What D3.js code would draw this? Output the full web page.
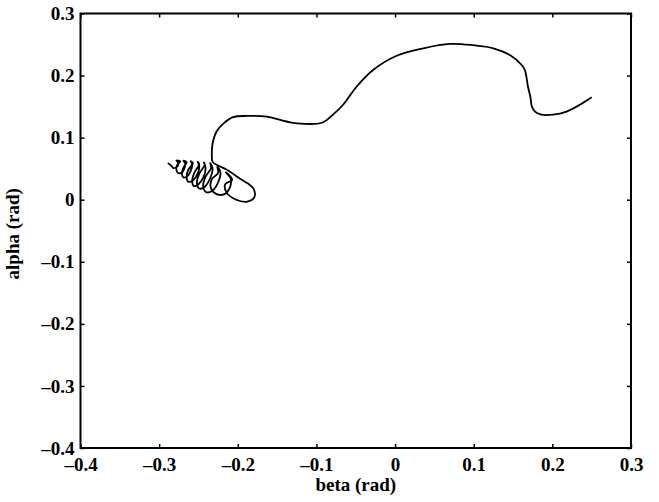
<!DOCTYPE html>
<html>
<head>
<meta charset="utf-8">
<script src="https://cdn.jsdelivr.net/npm/d3@7"></script>
<style>
body { margin: 0; background: #fff; }
svg text { font-family: "Liberation Serif", "Times New Roman", serif; font-weight: bold; fill: #000; }
</style>
</head>
<body>
<svg width="659" height="502"></svg>
<script>
// tick values for both axes
var xTicks = [-0.4, -0.3, -0.2, -0.1, 0, 0.1, 0.2, 0.3];
var yTicks = [-0.4, -0.3, -0.2, -0.1, 0, 0.1, 0.2, 0.3];

// trajectory (beta = x, alpha = y), from the right end to the loop tip
var beta = [
    0.250, 0.235, 0.218, 0.201, 0.186, 0.178, 0.174, 0.172, 0.169, 0.167,
    0.165, 0.161, 0.146, 0.125, 0.099, 0.070, 0.036, 0.002, -0.028, -0.049,
    -0.066, -0.079, -0.093, -0.125, -0.138, -0.163, -0.189, -0.206, -0.218, -0.227,
    -0.232, -0.233,
    -0.232, -0.225, -0.215, -0.204, -0.195, -0.187,
    -0.180, -0.179, -0.188, -0.202, -0.214, -0.216, -0.207,
    -0.215, -0.209, -0.210, -0.217, -0.227, -0.234, -0.233, -0.225,
    -0.226, -0.222, -0.225, -0.232, -0.240, -0.244, -0.241, -0.234,
    -0.235, -0.232, -0.235, -0.242, -0.249, -0.252, -0.249, -0.242,
    -0.243, -0.241, -0.243, -0.250, -0.256, -0.258, -0.255, -0.249,
    -0.251, -0.249, -0.251, -0.257, -0.263, -0.265, -0.263, -0.257,
    -0.260, -0.258, -0.260, -0.264, -0.269, -0.271, -0.269, -0.265,
    -0.269, -0.267, -0.268, -0.271, -0.276, -0.278, -0.277, -0.273,
    -0.278, -0.276, -0.276, -0.279, -0.282, -0.284, -0.289
];
var alpha = [
    0.165, 0.153, 0.142, 0.137, 0.137, 0.142, 0.150, 0.166, 0.182, 0.198,
    0.209, 0.217, 0.233, 0.244, 0.249, 0.251, 0.244, 0.232, 0.209, 0.182,
    0.153, 0.137, 0.124, 0.123, 0.126, 0.134, 0.135, 0.133, 0.123, 0.110,
    0.091, 0.072,
    0.061, 0.055, 0.049, 0.040, 0.032, 0.026,
    0.018, 0.004, -0.003, 0.000, 0.011, 0.025, 0.032,
    0.044, 0.034, 0.020, 0.009, 0.009, 0.018, 0.033, 0.043,
    0.053, 0.044, 0.028, 0.015, 0.012, 0.021, 0.037, 0.051,
    0.059, 0.050, 0.035, 0.021, 0.018, 0.027, 0.042, 0.056,
    0.060, 0.052, 0.038, 0.025, 0.022, 0.030, 0.044, 0.057,
    0.061, 0.054, 0.042, 0.031, 0.029, 0.036, 0.048, 0.059,
    0.062, 0.057, 0.046, 0.038, 0.036, 0.041, 0.052, 0.060,
    0.063, 0.058, 0.050, 0.044, 0.043, 0.048, 0.056, 0.062,
    0.063, 0.060, 0.055, 0.052, 0.051, 0.054, 0.059
];

var svg = d3.select("svg");
var plotL = 80.5, plotR = 631, plotT = 13.5, plotB = 448;

var x = d3.scaleLinear().domain([-0.4, 0.3]).range([plotL, plotR]);
var y = d3.scaleLinear().domain([-0.4, 0.3]).range([plotB, plotT]);

function fmt(d) { //matlab style labels
    if (Math.abs(d) < 1e-9) return "0";
    return (d < 0 ? "\u2013" : "") + Math.abs(d).toFixed(1);
}

var points = beta.map(function (b, i) { return [b, alpha[i]]; });

var line = d3.line()
    .x(function (d) { return x(d[0]); })
    .y(function (d) { return y(d[1]); })
    .curve(d3.curveCatmullRom.alpha(0.5));

svg.append("path")
    .datum(points)
    .attr("d", line)
    .attr("fill", "none")
    .attr("stroke", "#000")
    .attr("stroke-width", 1.8)
    .attr("stroke-linejoin", "round");

// axes, ticks pointing inward on all four sides
var gB = svg.append("g").attr("transform", "translate(0," + plotB + ")")
    .call(d3.axisBottom(x).tickValues(xTicks).tickSize(-4).tickSizeOuter(0).tickPadding(10).tickFormat(fmt));
var gT = svg.append("g").attr("transform", "translate(0," + plotT + ")")
    .call(d3.axisTop(x).tickValues(xTicks).tickSize(-4).tickSizeOuter(0).tickFormat(""));
var gL = svg.append("g").attr("transform", "translate(" + plotL + ",0)")
    .call(d3.axisLeft(y).tickValues(yTicks).tickSize(-4).tickSizeOuter(0).tickPadding(6).tickFormat(fmt));
var gR = svg.append("g").attr("transform", "translate(" + plotR + ",0)")
    .call(d3.axisRight(y).tickValues(yTicks).tickSize(-4).tickSizeOuter(0).tickFormat(""));

[gB, gT, gL, gR].forEach(function (g) {
    g.select(".domain").remove();
    g.selectAll(".tick line").attr("stroke", "#000").attr("stroke-width", 1.5);
    g.selectAll(".tick text").attr("font-size", "19px").attr("font-family", null);
});

svg.append("rect") //frame
    .attr("x", plotL).attr("y", plotT)
    .attr("width", plotR - plotL).attr("height", plotB - plotT)
    .attr("fill", "none").attr("stroke", "#000").attr("stroke-width", 2);

svg.append("text") //x label
    .attr("x", (plotL + plotR) / 2)
    .attr("y", 491)
    .attr("text-anchor", "middle")
    .attr("font-size", "19px")
    .text("beta (rad)");

svg.append("text") //y label
    .attr("transform", "translate(19," + ((plotT + plotB) / 2 + 3) + ") rotate(-90)")
    .attr("text-anchor", "middle")
    .attr("font-size", "19px")
    .text("alpha (rad)");
</script>
</body>
</html>
